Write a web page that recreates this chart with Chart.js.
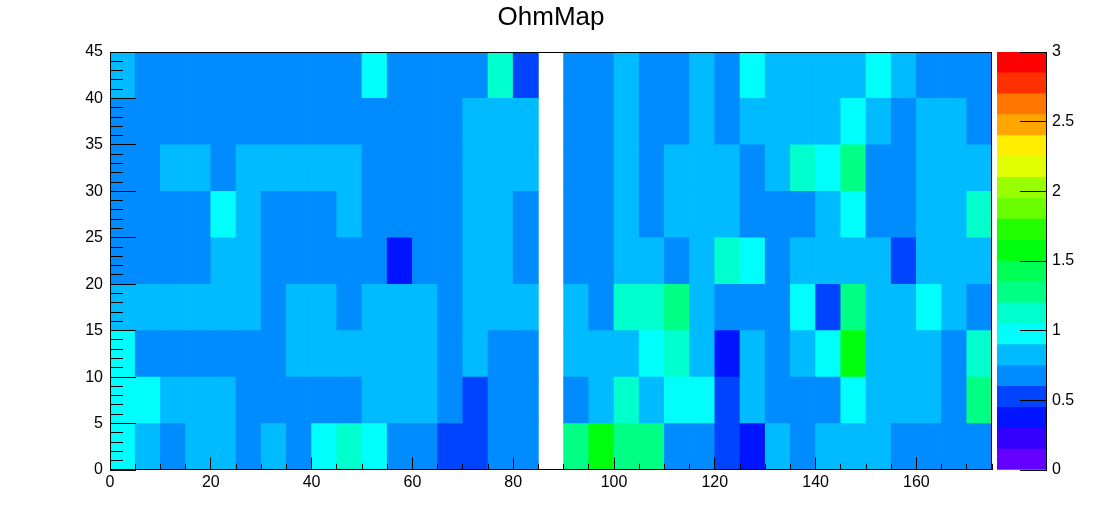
<!DOCTYPE html>
<html>
<head>
<meta charset="utf-8">
<script src="https://cdn.jsdelivr.net/npm/chart.js@4/dist/chart.umd.min.js"></script>
<style>
html, body { margin: 0; padding: 0; background: #ffffff; }
#wrap { position: relative; width: 1102px; height: 522px; overflow: hidden; }
#main { position: absolute; left: 0; top: 0; }
#zbar { position: absolute; left: 990px; top: 0; }
</style>
</head>
<body>
<div id="wrap">
  <canvas id="main" width="1102" height="522"></canvas>
  <canvas id="zbar" width="112" height="522"></canvas>
</div>
<script>
// ---------- data ----------
const chartTitle = 'OhmMap';
const xBinLow = [0,5,10,15,20,25,30,35,40,45,50,55,60,65,70,75,80,85,90,95,100,105,110,115,120,125,130,135,140,145,150,155,160,165,170];
const yBinLow = [0,5,10,15,20,25,30,35,40];
const binWidthX = 5;
const binWidthY = 5;

// cell values per y-bin row (x bins 0..170), null = empty bin
const ohm_y0  = [0.97,0.82,0.68,0.82,0.82,0.68,0.82,0.68,0.97,1.12,0.97,0.68,0.68,0.53,0.53,0.68,0.68,null,1.28,1.58,1.28,1.28,0.68,0.68,0.53,0.38,0.82,0.68,0.82,0.82,0.82,0.68,0.68,0.68,0.68];
const ohm_y5  = [0.97,0.97,0.82,0.82,0.82,0.68,0.68,0.68,0.68,0.68,0.82,0.82,0.82,0.68,0.53,0.68,0.68,null,0.68,0.82,1.12,0.82,0.97,0.97,0.53,0.82,0.68,0.68,0.68,0.97,0.82,0.82,0.82,0.68,1.28];
const ohm_y10 = [0.97,0.68,0.68,0.68,0.68,0.68,0.68,0.82,0.82,0.82,0.82,0.82,0.82,0.68,0.82,0.68,0.68,null,0.82,0.82,0.82,0.97,1.12,0.82,0.38,0.82,0.68,0.82,0.97,1.58,0.82,0.82,0.82,0.68,1.12];
const ohm_y15 = [0.82,0.82,0.82,0.82,0.82,0.82,0.68,0.82,0.82,0.68,0.82,0.82,0.82,0.68,0.82,0.82,0.82,null,0.82,0.68,1.12,1.12,1.28,0.82,0.68,0.68,0.68,0.97,0.53,1.28,0.82,0.82,0.97,0.82,0.68];
const ohm_y20 = [0.68,0.68,0.68,0.68,0.82,0.82,0.68,0.68,0.68,0.68,0.68,0.38,0.68,0.68,0.82,0.82,0.68,null,0.68,0.68,0.82,0.82,0.68,0.82,1.12,0.97,0.68,0.82,0.82,0.82,0.82,0.53,0.82,0.82,0.82];
const ohm_y25 = [0.68,0.68,0.68,0.68,0.97,0.82,0.68,0.68,0.68,0.82,0.68,0.68,0.68,0.68,0.82,0.82,0.68,null,0.68,0.68,0.82,0.68,0.82,0.82,0.82,0.68,0.68,0.68,0.82,0.97,0.68,0.68,0.82,0.82,1.12];
const ohm_y30 = [0.68,0.68,0.82,0.82,0.68,0.82,0.82,0.82,0.82,0.82,0.68,0.68,0.68,0.68,0.82,0.82,0.82,null,0.68,0.68,0.82,0.68,0.82,0.82,0.82,0.68,0.82,1.12,0.97,1.28,0.68,0.68,0.82,0.82,0.82];
const ohm_y35 = [0.68,0.68,0.68,0.68,0.68,0.68,0.68,0.68,0.68,0.68,0.68,0.68,0.68,0.68,0.82,0.82,0.82,null,0.68,0.68,0.82,0.68,0.68,0.82,0.68,0.82,0.82,0.82,0.82,0.97,0.82,0.68,0.82,0.82,0.68];
const ohm_y40 = [0.82,0.68,0.68,0.68,0.68,0.68,0.68,0.68,0.68,0.68,0.97,0.68,0.68,0.68,0.68,1.12,0.53,null,0.68,0.68,0.82,0.68,0.68,0.82,0.68,0.97,0.82,0.82,0.82,0.82,0.97,0.82,0.68,0.68,0.68];
const ohmRows = [ohm_y0, ohm_y5, ohm_y10, ohm_y15, ohm_y20, ohm_y25, ohm_y30, ohm_y35, ohm_y40];

const xRange = [0, 175];
const yRange = [0, 45];
const zRange = [0, 3];
const zLevels = 20;
const xLabelStep = 20;

// ---------- style ----------
const palette = ['#6300FF','#3300FF','#0014FF','#0044FF','#008BFF','#00BBFF','#00FFFC','#00FFCC','#00FF85','#00FF55',
                 '#00FF0E','#22FF00','#69FF00','#99FF00','#E0FF00','#FFEE00','#FFA700','#FF7700','#FF3000','#FF0000'];
const FONT = "'Liberation Sans', Arial, Helvetica, sans-serif";

function levelOf(v) {
  let k = Math.floor((v - zRange[0]) / ((zRange[1] - zRange[0]) / zLevels));
  return Math.max(0, Math.min(zLevels - 1, k));
}
function colorOf(v) { return (v === null || v === undefined) ? 'rgba(0,0,0,0)' : palette[levelOf(v)]; }

const datasets = ohmRows.map((row, r) => ({
  label: 'y' + yBinLow[r],
  xAxisID: 'x', yAxisID: 'y',
  data: row.map((v, c) => v === null ? null : ({ x: xBinLow[c] + binWidthX / 2, y: [yBinLow[r], yBinLow[r] + binWidthY], v: v }))
           .filter(d => d !== null),
  backgroundColor: ctx => colorOf(ctx.raw ? ctx.raw.v : null),
  borderWidth: 0,
  grouped: false,
  barPercentage: 1,
  categoryPercentage: 1
}));

const framePlugin = {
  id: 'frame',
  afterDraw(chart) {
    const { ctx, chartArea: a } = chart;
    ctx.save();
    ctx.strokeStyle = '#000';
    ctx.lineWidth = 1;
    const l = Math.round(a.left), t = Math.round(a.top), r = Math.round(a.right), b = Math.round(a.bottom);
    ctx.strokeRect(l + 0.5, t + 0.5, r - l - 1, b - t - 1);
    ctx.restore();
  }
};

const tickFont = { family: FONT, size: 16 };

new Chart(document.getElementById('main'), {
  type: 'bar',
  data: { datasets },
  options: {
    responsive: false,
    animation: false,
    devicePixelRatio: 1,
    layout: { padding: 0 },
    plugins: {
      legend: { display: false },
      tooltip: { enabled: false },
      title: {
        display: true, text: chartTitle, color: '#000',
        font: { family: FONT, size: 26, weight: 'normal', lineHeight: 1.2 },
        padding: { top: 2, bottom: 18.8 }
      }
    },
    scales: {
      x: {
        type: 'linear', position: 'bottom', weight: 1, bounds: 'data',
        min: xRange[0], max: xRange[1], offset: false,
        afterFit: s => { s.height = 52; },
        afterBuildTicks: s => { s.ticks = s.ticks.filter(t => t.value % xLabelStep === 0); },
        ticks: { stepSize: xLabelStep, autoSkip: false, includeBounds: false, maxRotation: 0, padding: 15, color: '#000', font: tickFont, maxTicksLimit: 1000 },
        grid: { drawOnChartArea: false, offset: false, tickLength: -12.5, color: '#000', z: 1 },
        border: { display: false }
      },
      xm: {
        type: 'linear', position: 'bottom', weight: 0, bounds: 'data',
        min: xRange[0], max: xRange[1], offset: false,
        afterFit: s => { s.height = 0; },
        ticks: { stepSize: 5, autoSkip: false, includeBounds: false, display: false, maxTicksLimit: 1000 },
        grid: { drawOnChartArea: false, offset: false, tickLength: -6.2, color: '#000', z: 1 },
        border: { display: false }
      },
      y: {
        type: 'linear', position: 'left', weight: 1, bounds: 'data',
        min: yRange[0], max: yRange[1],
        afterFit: s => { s.width = 110; },
        ticks: { stepSize: 5, autoSkip: false, includeBounds: false, padding: 33, color: '#000', font: tickFont, maxTicksLimit: 1000 },
        grid: { drawOnChartArea: false, tickLength: -26, color: '#000', z: 1 },
        border: { display: false }
      },
      ym: {
        type: 'linear', position: 'left', weight: 0, bounds: 'data',
        min: yRange[0], max: yRange[1],
        afterFit: s => { s.width = 0; },
        ticks: { stepSize: 1, autoSkip: false, includeBounds: false, display: false, maxTicksLimit: 1000 },
        grid: { drawOnChartArea: false, tickLength: -13, color: '#000', z: 1 },
        border: { display: false }
      },
      yr: {
        type: 'linear', position: 'right', bounds: 'data',
        min: yRange[0], max: yRange[1],
        afterFit: s => { s.width = 110; },
        ticks: { display: false },
        grid: { display: false, drawTicks: false },
        border: { display: false }
      }
    }
  },
  plugins: [framePlugin]
});

// ---------- colour bar ----------
const zStep = (zRange[1] - zRange[0]) / zLevels;
const barSets = palette.map((col, k) => ({
  data: [[zRange[0] + k * zStep, zRange[0] + (k + 1) * zStep]],
  backgroundColor: col,
  borderWidth: 0,
  grouped: false,
  barPercentage: 1,
  categoryPercentage: 1
}));

new Chart(document.getElementById('zbar'), {
  type: 'bar',
  data: { labels: ['z'], datasets: barSets },
  options: {
    responsive: false,
    animation: false,
    devicePixelRatio: 1,
    layout: { padding: { left: 7, right: 0, top: 52, bottom: 52 } },
    plugins: { legend: { display: false }, tooltip: { enabled: false }, title: { display: false } },
    scales: {
      x: { display: false },
      y: {
        type: 'linear', position: 'right', bounds: 'data',
        min: zRange[0], max: zRange[1],
        afterFit: s => { s.width = 56; },
        ticks: { stepSize: 0.5, autoSkip: false, includeBounds: false, padding: 32, color: '#000', font: tickFont, maxTicksLimit: 1000,
                 callback: v => String(v) },
        grid: { drawOnChartArea: false, tickLength: -26, color: '#000', z: 1 },
        border: { display: true, color: '#000', width: 1, z: 1 }
      }
    }
  }
});
</script>
</body>
</html>
